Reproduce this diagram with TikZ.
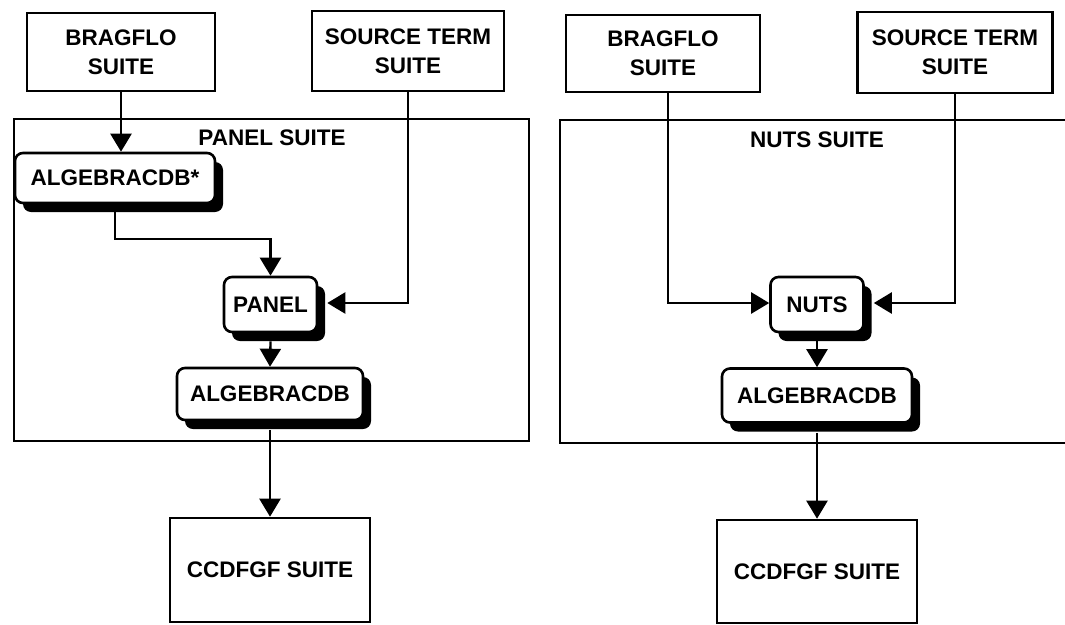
\documentclass[tikz,border=0pt]{standalone}
\usepackage{fontspec}
\setmainfont{Liberation Sans}
\usetikzlibrary{arrows.meta,shadows,calc}
\begin{document}
\begin{tikzpicture}[x=1pt,y=-1pt,
  txt/.style={align=center,font=\fontsize{22.5}{29}\selectfont\bfseries,inner sep=0pt},
  box/.style={txt,draw,line width=2.6pt,fill=white},
  prog/.style={box,rounded corners=8pt,drop shadow={shadow xshift=8pt,shadow yshift=-9pt,fill=black,opacity=1}},
  cont/.style={draw,line width=2.4pt,inner sep=0pt},
  arr/.style={line width=2.3pt,-{Triangle[width=21pt,length=18pt]}}
]
\useasboundingbox (0,0) rectangle (1065,624);
% containers
\node[cont,anchor=north west,minimum width=515pt,minimum height=322pt] (panelSuite) at (13,118) {};
\node[txt] (panelLbl) at (272,138) {PANEL SUITE};
\draw[line width=2.4pt] (1067,120) -- (560,120) -- (560,443) -- (1067,443);
\node[txt] (nutsLbl) at (817,140) {NUTS SUITE};
% left
\node[box,minimum width=188pt,minimum height=78pt] (bragL) at (121,52) {BRAGFLO\\SUITE};
\node[box,minimum width=192pt,minimum height=80pt] (srcL) at (408,51) {SOURCE TERM\\SUITE};
\node[prog,minimum width=200pt,minimum height=50pt] (algStar) at (115,178) {ALGEBRACDB*};
\node[prog,minimum width=93pt,minimum height=55pt] (panel) at (270.5,304.5) {PANEL};
\node[prog,minimum width=186pt,minimum height=52pt] (algL) at (270,394) {ALGEBRACDB};
\node[box,minimum width=200pt,minimum height=104pt] (ccdfL) at (270,570) {CCDFGF SUITE};
\draw[arr] (bragL.south) -- (bragL.south |- algStar.north);
\draw[arr] (algStar.south) -- ++(0,35) -| (panel.north);
\draw[arr] (srcL.south) |- ($(panel.east)+(9,-1.5)$);
\draw[arr] ($(panel.south)+(0,8)$) -- (algL.north);
\draw[arr] ($(algL.south)+(0,9)$) -- (ccdfL.north);
% right
\node[box,minimum width=194pt,minimum height=77pt] (bragR) at (663,53.5) {BRAGFLO\\SUITE};
\node[box,minimum width=195pt,minimum height=81pt] (srcR) at (955,52.5) {SOURCE TERM\\SUITE};
\node[prog,minimum width=93pt,minimum height=55pt] (nuts) at (817,304.5) {NUTS};
\node[prog,minimum width=190pt,minimum height=54pt] (algR) at (817,395.5) {ALGEBRACDB};
\node[box,minimum width=200pt,minimum height=103pt] (ccdfR) at (817,571.5) {CCDFGF SUITE};
\draw[arr] ($(bragR.south)+(5,0)$) |- ($(nuts.west)+(0,-1.5)$);
\draw[arr] (srcR.south) |- ($(nuts.east)+(9,-1.5)$);
\draw[arr] ($(nuts.south)+(0,8)$) -- (algR.north);
\draw[arr] ($(algR.south)+(0,9)$) -- (ccdfR.north);
\end{tikzpicture}
\end{document}
